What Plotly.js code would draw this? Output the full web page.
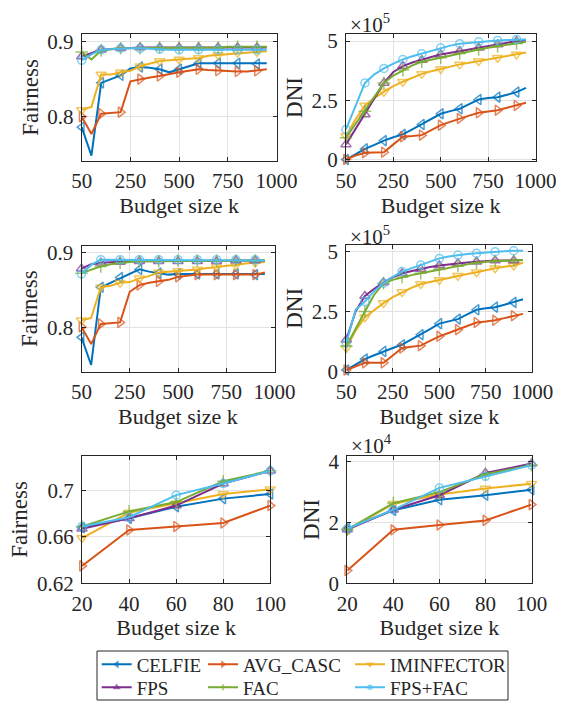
<!DOCTYPE html>
<html><head><meta charset="utf-8">
<script src="https://cdn.plot.ly/plotly-3.0.1.min.js"></script>
<style>html,body{margin:0;padding:0;background:#fff;}#chart{width:563px;height:702px;}</style>
</head><body><div id="chart"></div>
<script>
// ---- data ----
const methods = ['CELFIE', 'AVG_CASC', 'IMINFECTOR', 'FPS', 'FAC', 'FPS+FAC'];
// budget sizes for the two upper rows (first position is labelled "50" on the axis)
const kLarge = [0, 50, 100, 150, 200, 250, 300, 350, 400, 450, 500, 550, 600, 650, 700, 750, 800, 850, 900, 950];
const kSmall = [20, 40, 60, 80, 100];
const kLargeTicks = [0, 250, 500, 750, 1000];
const kLargeTickText = ['50', '250', '500', '750', '1000'];

// Row 1, left: Fairness
const fair1_CELFIE = [0.786, 0.748, 0.845, 0.850, 0.855, 0.864, 0.866, 0.865, 0.863, 0.859, 0.863, 0.867, 0.871, 0.871, 0.871, 0.871, 0.871, 0.871, 0.870, 0.871];
const fair1_AVG    = [0.800, 0.777, 0.804, 0.805, 0.806, 0.847, 0.850, 0.852, 0.854, 0.857, 0.859, 0.861, 0.863, 0.862, 0.861, 0.860, 0.860, 0.860, 0.861, 0.863];
const fair1_IMI    = [0.809, 0.813, 0.856, 0.856, 0.859, 0.861, 0.867, 0.871, 0.874, 0.875, 0.876, 0.877, 0.878, 0.881, 0.882, 0.883, 0.885, 0.886, 0.886, 0.887];
const fair1_FPS    = [0.880, 0.884, 0.889, 0.890, 0.891, 0.891, 0.892, 0.892, 0.892, 0.892, 0.892, 0.892, 0.892, 0.892, 0.892, 0.892, 0.892, 0.892, 0.892, 0.892];
const fair1_FAC    = [0.886, 0.876, 0.888, 0.890, 0.891, 0.891, 0.891, 0.892, 0.892, 0.892, 0.892, 0.892, 0.892, 0.892, 0.892, 0.893, 0.893, 0.893, 0.893, 0.893];
const fair1_FPSFAC = [0.875, 0.883, 0.889, 0.890, 0.891, 0.891, 0.891, 0.890, 0.890, 0.889, 0.889, 0.889, 0.889, 0.889, 0.889, 0.889, 0.889, 0.889, 0.889, 0.889];

// Row 1, right: DNI (x 10^5)
const dni1_CELFIE = [0.01, 0.25, 0.46, 0.63, 0.81, 0.95, 1.07, 1.28, 1.49, 1.72, 1.94, 2.05, 2.15, 2.35, 2.54, 2.60, 2.64, 2.74, 2.85, 3.03];
const dni1_AVG    = [0.02, 0.18, 0.30, 0.31, 0.32, 0.65, 0.97, 1.00, 1.04, 1.25, 1.46, 1.60, 1.74, 1.86, 1.98, 2.03, 2.09, 2.19, 2.29, 2.40];
const dni1_IMI    = [1.00, 1.70, 2.29, 2.60, 2.87, 3.10, 3.29, 3.47, 3.62, 3.73, 3.83, 3.93, 4.02, 4.09, 4.16, 4.23, 4.30, 4.37, 4.44, 4.52];
const dni1_FPS    = [0.65, 1.30, 1.91, 2.60, 3.24, 3.70, 3.95, 4.10, 4.20, 4.33, 4.44, 4.52, 4.58, 4.65, 4.72, 4.79, 4.86, 4.93, 5.00, 5.00];
const dni1_FAC    = [0.93, 1.50, 2.05, 2.65, 3.24, 3.55, 3.78, 3.98, 4.13, 4.22, 4.30, 4.39, 4.48, 4.57, 4.65, 4.72, 4.79, 4.85, 4.90, 4.97];
const dni1_FPSFAC = [1.28, 2.30, 3.24, 3.60, 3.85, 4.05, 4.23, 4.36, 4.47, 4.60, 4.72, 4.81, 4.89, 4.93, 4.97, 5.00, 5.03, 5.05, 5.07, 5.07];

// Row 2, left: Fairness
const fair2_CELFIE = [0.787, 0.750, 0.854, 0.860, 0.867, 0.872, 0.878, 0.875, 0.873, 0.871, 0.872, 0.872, 0.872, 0.872, 0.872, 0.872, 0.872, 0.872, 0.871, 0.872];
const fair2_AVG    = [0.801, 0.778, 0.805, 0.806, 0.807, 0.848, 0.857, 0.860, 0.862, 0.864, 0.868, 0.870, 0.871, 0.871, 0.871, 0.871, 0.871, 0.871, 0.871, 0.874];
const fair2_IMI    = [0.810, 0.813, 0.854, 0.856, 0.860, 0.861, 0.866, 0.869, 0.874, 0.875, 0.876, 0.877, 0.878, 0.880, 0.881, 0.883, 0.884, 0.886, 0.887, 0.888];
const fair2_FPS    = [0.879, 0.885, 0.887, 0.888, 0.888, 0.889, 0.889, 0.889, 0.889, 0.889, 0.889, 0.889, 0.889, 0.889, 0.889, 0.890, 0.890, 0.890, 0.890, 0.890];
const fair2_FAC    = [0.873, 0.878, 0.882, 0.885, 0.887, 0.888, 0.889, 0.889, 0.889, 0.890, 0.890, 0.890, 0.890, 0.890, 0.890, 0.890, 0.890, 0.890, 0.890, 0.890];
const fair2_FPSFAC = [0.872, 0.884, 0.891, 0.891, 0.891, 0.891, 0.891, 0.891, 0.891, 0.891, 0.891, 0.891, 0.891, 0.891, 0.891, 0.891, 0.891, 0.891, 0.891, 0.890];

// Row 2, right: DNI (x 10^5)
const dni2_CELFIE = [0.05, 0.28, 0.51, 0.67, 0.83, 0.97, 1.11, 1.32, 1.53, 1.76, 1.99, 2.08, 2.18, 2.38, 2.57, 2.63, 2.68, 2.78, 2.88, 3.01];
const dni2_AVG    = [0.05, 0.20, 0.35, 0.35, 0.35, 0.66, 0.97, 1.02, 1.07, 1.27, 1.46, 1.60, 1.74, 1.89, 2.04, 2.08, 2.13, 2.22, 2.32, 2.40];
const dni2_IMI    = [0.97, 1.70, 2.26, 2.57, 2.85, 3.10, 3.31, 3.49, 3.65, 3.74, 3.82, 3.91, 3.99, 4.07, 4.14, 4.23, 4.31, 4.37, 4.42, 4.54];
const dni2_FPS    = [1.32, 2.50, 3.15, 3.45, 3.71, 3.93, 4.10, 4.19, 4.28, 4.36, 4.42, 4.47, 4.51, 4.55, 4.58, 4.61, 4.63, 4.63, 4.63, 4.65];
const dni2_FAC    = [1.04, 1.80, 2.50, 3.20, 3.68, 3.82, 3.93, 4.02, 4.10, 4.18, 4.26, 4.33, 4.40, 4.47, 4.54, 4.58, 4.61, 4.62, 4.63, 4.65];
const dni2_FPSFAC = [1.18, 2.57, 2.92, 3.35, 3.68, 3.95, 4.17, 4.31, 4.44, 4.58, 4.72, 4.80, 4.86, 4.90, 4.93, 4.97, 5.00, 5.02, 5.04, 5.04];

// Row 3, left: Fairness
const fair3_CELFIE = [0.668, 0.676, 0.686, 0.693, 0.697];
const fair3_AVG    = [0.635, 0.666, 0.669, 0.672, 0.687];
const fair3_IMI    = [0.659, 0.681, 0.689, 0.697, 0.701];
const fair3_FPS    = [0.667, 0.676, 0.687, 0.706, 0.717];
const fair3_FAC    = [0.669, 0.682, 0.690, 0.708, 0.717];
const fair3_FPSFAC = [0.669, 0.677, 0.696, 0.706, 0.717];

// Row 3, right: DNI (x 10^4)
const dni3_CELFIE = [1.80, 2.40, 2.75, 2.90, 3.08];
const dni3_AVG    = [0.42, 1.76, 1.92, 2.07, 2.59];
const dni3_IMI    = [1.74, 2.62, 2.92, 3.12, 3.28];
const dni3_FPS    = [1.77, 2.42, 2.90, 3.63, 3.94];
const dni3_FAC    = [1.77, 2.64, 3.00, 3.59, 3.89];
const dni3_FPSFAC = [1.80, 2.42, 3.14, 3.52, 3.89];

// ---- styling ----
const colors = ['#0072BD', '#D95319', '#EDB120', '#7E2F8E', '#77AC30', '#4DBEEE'];
const symbols = ['triangle-left-open', 'triangle-right-open', 'triangle-down-open', 'triangle-up-open', 'cross-thin-open', 'circle-open'];
const msizes = [9, 9, 9, 9, 9, 8];
const legendIds = ['legend', 'legend2', 'legend3', 'legend4', 'legend5', 'legend6'];
const FONT = "'Liberation Serif'";
const TXT = '#262626';
const W = 563, H = 702;

const panels = [
  {xa: 'x',  ya: 'y',  x: kLarge, series: [fair1_CELFIE, fair1_AVG, fair1_IMI, fair1_FPS, fair1_FAC, fair1_FPSFAC], sparse: true},
  {xa: 'x2', ya: 'y2', x: kLarge, series: [dni1_CELFIE, dni1_AVG, dni1_IMI, dni1_FPS, dni1_FAC, dni1_FPSFAC], sparse: true},
  {xa: 'x3', ya: 'y3', x: kLarge, series: [fair2_CELFIE, fair2_AVG, fair2_IMI, fair2_FPS, fair2_FAC, fair2_FPSFAC], sparse: true},
  {xa: 'x4', ya: 'y4', x: kLarge, series: [dni2_CELFIE, dni2_AVG, dni2_IMI, dni2_FPS, dni2_FAC, dni2_FPSFAC], sparse: true},
  {xa: 'x5', ya: 'y5', x: kSmall, series: [fair3_CELFIE, fair3_AVG, fair3_IMI, fair3_FPS, fair3_FAC, fair3_FPSFAC], sparse: false},
  {xa: 'x6', ya: 'y6', x: kSmall, series: [dni3_CELFIE, dni3_AVG, dni3_IMI, dni3_FPS, dni3_FAC, dni3_FPSFAC], sparse: false}
];

const traces = [];
panels.forEach((p, pi) => {
  p.series.forEach((vals, si) => {
    const size = p.x.map((_, i) => (!p.sparse || i % 2 === 0) ? msizes[si] : 0);
    traces.push({
      type: 'scatter', mode: 'lines+markers',
      x: p.x, y: vals, xaxis: p.xa, yaxis: p.ya,
      name: methods[si], legend: legendIds[si], showlegend: pi === 0,
      line: {color: colors[si], width: 2},
      marker: {symbol: symbols[si], size: size, color: colors[si], line: {color: colors[si], width: 1.5}},
      cliponaxis: false, hoverinfo: 'skip'
    });
  });
});

// plot areas in pixels: [left, right, top, bottom]
const boxes = [
  [81.7, 276.5, 34, 161],
  [346.0, 535.5, 34, 161],
  [81.5, 274.5, 245.5, 371.7],
  [346.3, 532.3, 245, 371.7],
  [82.0, 270.3, 455.7, 583.3],
  [347.3, 531.5, 455.7, 583.3]
];
const xdom = b => [b[0] / W, b[1] / W];
const ydom = b => [1 - b[3] / H, 1 - b[2] / H];

function axisBase() {
  return {
    showline: true, mirror: 'ticks', linecolor: TXT, linewidth: 1,
    ticks: 'inside', ticklen: 4, tickwidth: 1, tickcolor: TXT,
    showgrid: true, gridcolor: '#e2e2e2', gridwidth: 1, zeroline: false,
    tickfont: {family: FONT, size: 21, color: TXT}, fixedrange: true
  };
}
function xAxis(i, range, tickvals, ticktext) {
  return Object.assign(axisBase(), {
    domain: xdom(boxes[i]), anchor: 'y' + (i === 0 ? '' : i + 1), range: range,
    tickmode: 'array', tickvals: tickvals, ticktext: ticktext, ticklabelstandoff: 1,
    title: {text: 'Budget size k', font: {family: FONT, size: 22, color: TXT}, standoff: 0}
  });
}
function yAxis(i, range, tickvals, ticktext, title) {
  return Object.assign(axisBase(), {
    domain: ydom(boxes[i]), anchor: 'x' + (i === 0 ? '' : i + 1), range: range,
    tickmode: 'array', tickvals: tickvals, ticktext: ticktext, ticklabelstandoff: 3,
    title: {text: title, font: {family: FONT, size: 23, color: TXT}, standoff: 2}
  });
}

const layout = {
  width: W, height: H, margin: {l: 0, r: 0, t: 0, b: 0, autoexpand: false},
  paper_bgcolor: '#fff', plot_bgcolor: '#fff', showlegend: true,
  font: {family: FONT, color: TXT},
  xaxis:  xAxis(0, [0, 1000], kLargeTicks, kLargeTickText),
  xaxis2: xAxis(1, [0, 1000], kLargeTicks, kLargeTickText),
  xaxis3: xAxis(2, [0, 1000], kLargeTicks, kLargeTickText),
  xaxis4: xAxis(3, [0, 1000], kLargeTicks, kLargeTickText),
  xaxis5: xAxis(4, [20, 100], kSmall, kSmall.map(String)),
  xaxis6: xAxis(5, [20, 100], kSmall, kSmall.map(String)),
  yaxis:  yAxis(0, [0.741, 0.910], [0.8, 0.9], ['0.8', '0.9'], 'Fairness'),
  yaxis2: yAxis(1, [-0.05, 5.3], [0, 2.5, 5], ['0', '2.5', '5'], 'DNI'),
  yaxis3: yAxis(2, [0.741, 0.910], [0.8, 0.9], ['0.8', '0.9'], 'Fairness'),
  yaxis4: yAxis(3, [-0.02, 5.28], [0, 2.5, 5], ['0', '2.5', '5'], 'DNI'),
  yaxis5: yAxis(4, [0.62, 0.73], [0.62, 0.66, 0.7], ['0.62', '0.66', '0.7'], 'Fairness'),
  yaxis6: yAxis(5, [0, 4.2], [0, 2, 4], ['0', '2', '4'], 'DNI'),
  annotations: [[1, -5], [3, -6], [5, -4]].map(([i, dy], n) => ({
    xref: 'paper', yref: 'paper', x: boxes[i][0] / W, y: 1 - boxes[i][2] / H,
    xanchor: 'left', yanchor: 'bottom', xshift: 2, yshift: dy, showarrow: false,
    text: '\u00d710<sup>' + (n < 2 ? '5' : '4') + '</sup>',
    font: {family: FONT, size: 21, color: TXT}
  })),
  shapes: [{type: 'rect', xref: 'paper', yref: 'paper', x0: 97 / W, x1: 508 / W, y0: 1 - 700 / H, y1: 1 - 651 / H,
            line: {color: TXT, width: 1}, fillcolor: 'rgba(0,0,0,0)', layer: 'above'}]
};
// one legend per entry, laid out as 3 columns x 2 rows: [left px of entry, row centre px]
const legPos = [[96.7, 664.5], [203, 664.5], [350, 664.5], [96.7, 687.5], [203, 687.5], [350, 687.5]];
legendIds.forEach((id, i) => {
  layout[id] = {orientation: 'v', xanchor: 'left', yanchor: 'middle',
    x: legPos[i][0] / W, y: 1 - legPos[i][1] / H,
    bgcolor: 'rgba(0,0,0,0)', borderwidth: 0, font: {family: FONT, size: 19, color: TXT}};
});

Plotly.newPlot('chart', traces, layout, {staticPlot: true, displayModeBar: false});
</script>
</body></html>
